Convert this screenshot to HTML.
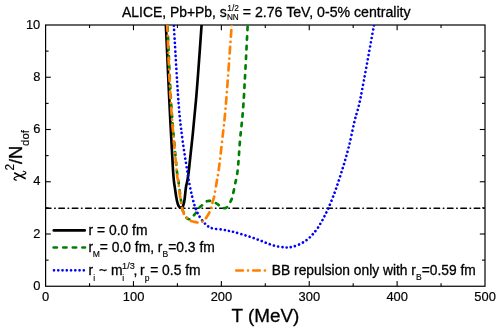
<!DOCTYPE html>
<html><head><meta charset="utf-8"><title>chi2/Ndof vs T</title>
<style>html,body{margin:0;padding:0;background:#fff;}body{width:498px;height:332px;overflow:hidden;}svg{display:block;position:absolute;left:0;top:0;will-change:transform;}text{font-family:"Liberation Sans", sans-serif;fill:#000;stroke:#000;stroke-width:0.3px;stroke-linejoin:round;}.tk text{stroke-width:0.18px;}.sm{stroke-width:0.14px;}</style>
</head><body>
<svg width="498" height="332" viewBox="0 0 498 332">
<rect x="0" y="0" width="498" height="332" fill="#fff"/>
<defs><clipPath id="pc"><rect x="45.60" y="25.00" width="439.40" height="261.25"/></clipPath></defs>
<rect x="45.60" y="25.00" width="439.40" height="261.25" fill="none" stroke="#000" stroke-width="1.2"/>
<g stroke="#000" stroke-width="1.1">
<line x1="89.54" y1="286.25" x2="89.54" y2="283.25"/>
<line x1="89.54" y1="25.00" x2="89.54" y2="28.00"/>
<line x1="133.48" y1="286.25" x2="133.48" y2="281.05"/>
<line x1="133.48" y1="25.00" x2="133.48" y2="30.20"/>
<line x1="177.42" y1="286.25" x2="177.42" y2="283.25"/>
<line x1="177.42" y1="25.00" x2="177.42" y2="28.00"/>
<line x1="221.36" y1="286.25" x2="221.36" y2="281.05"/>
<line x1="221.36" y1="25.00" x2="221.36" y2="30.20"/>
<line x1="265.30" y1="286.25" x2="265.30" y2="283.25"/>
<line x1="265.30" y1="25.00" x2="265.30" y2="28.00"/>
<line x1="309.24" y1="286.25" x2="309.24" y2="281.05"/>
<line x1="309.24" y1="25.00" x2="309.24" y2="30.20"/>
<line x1="353.18" y1="286.25" x2="353.18" y2="283.25"/>
<line x1="353.18" y1="25.00" x2="353.18" y2="28.00"/>
<line x1="397.12" y1="286.25" x2="397.12" y2="281.05"/>
<line x1="397.12" y1="25.00" x2="397.12" y2="30.20"/>
<line x1="441.06" y1="286.25" x2="441.06" y2="283.25"/>
<line x1="441.06" y1="25.00" x2="441.06" y2="28.00"/>
<line x1="45.60" y1="260.12" x2="48.60" y2="260.12"/>
<line x1="485.00" y1="260.12" x2="482.00" y2="260.12"/>
<line x1="45.60" y1="234.00" x2="50.80" y2="234.00"/>
<line x1="485.00" y1="234.00" x2="479.80" y2="234.00"/>
<line x1="45.60" y1="207.88" x2="48.60" y2="207.88"/>
<line x1="485.00" y1="207.88" x2="482.00" y2="207.88"/>
<line x1="45.60" y1="181.75" x2="50.80" y2="181.75"/>
<line x1="485.00" y1="181.75" x2="479.80" y2="181.75"/>
<line x1="45.60" y1="155.62" x2="48.60" y2="155.62"/>
<line x1="485.00" y1="155.62" x2="482.00" y2="155.62"/>
<line x1="45.60" y1="129.50" x2="50.80" y2="129.50"/>
<line x1="485.00" y1="129.50" x2="479.80" y2="129.50"/>
<line x1="45.60" y1="103.38" x2="48.60" y2="103.38"/>
<line x1="485.00" y1="103.38" x2="482.00" y2="103.38"/>
<line x1="45.60" y1="77.25" x2="50.80" y2="77.25"/>
<line x1="485.00" y1="77.25" x2="479.80" y2="77.25"/>
<line x1="45.60" y1="51.12" x2="48.60" y2="51.12"/>
<line x1="485.00" y1="51.12" x2="482.00" y2="51.12"/>
</g>
<g clip-path="url(#pc)" fill="none" stroke-linejoin="round" stroke-linecap="round">
<line x1="45.45" y1="208.30" x2="485.00" y2="208.30" stroke="#000" stroke-width="1.4" stroke-dasharray="5.6 3.6 0.6 3.6"/>
<path d="M165.54 17.00 C165.60 18.33 165.27 11.17 165.90 25.00 C166.53 38.83 168.12 75.83 169.30 100.00 C170.48 124.17 172.02 155.00 173.00 170.00 C173.98 185.00 174.53 184.83 175.20 190.00 C175.87 195.17 176.45 198.38 177.00 201.00 C177.55 203.62 178.07 204.68 178.50 205.70 C178.93 206.72 179.20 206.78 179.60 207.10 C180.00 207.42 180.47 207.60 180.90 207.60 C181.33 207.60 181.82 207.42 182.20 207.10 C182.58 206.78 182.82 206.88 183.20 205.70 C183.58 204.52 184.03 203.12 184.50 200.00 C184.97 196.88 185.27 192.00 186.00 187.00 C186.73 182.00 187.23 184.50 188.90 170.00 C190.57 155.50 193.88 124.17 196.00 100.00 C198.12 75.83 200.57 38.83 201.60 25.00 C202.63 11.17 202.10 18.33 202.20 17.00" stroke="#000" stroke-width="2.67"/>
<path d="M167.13 17.00 C167.19 18.33 166.82 10.50 167.50 25.00 C168.18 39.50 169.65 79.83 171.20 104.00 C172.75 128.17 175.60 157.20 176.80 170.00 C178.00 182.80 177.78 176.28 178.40 180.80 C179.02 185.32 179.80 192.32 180.50 197.10 C181.20 201.88 181.93 206.60 182.60 209.50 C183.27 212.40 183.88 213.17 184.50 214.50 C185.12 215.83 185.67 216.75 186.30 217.50 C186.93 218.25 187.63 218.73 188.30 219.00 C188.97 219.27 189.63 219.35 190.30 219.10 C190.97 218.85 191.70 218.13 192.30 217.50 C192.90 216.87 193.23 216.17 193.90 215.30 C194.57 214.43 195.37 213.60 196.30 212.30 C197.23 211.00 198.50 208.70 199.50 207.50 C200.50 206.30 201.47 205.88 202.30 205.10 C203.13 204.32 203.77 203.42 204.50 202.80 C205.23 202.18 205.92 201.72 206.70 201.40 C207.48 201.08 208.38 200.93 209.20 200.90 C210.02 200.87 210.60 200.90 211.60 201.20 C212.60 201.50 213.93 202.00 215.20 202.70 C216.47 203.40 218.07 204.62 219.20 205.40 C220.33 206.18 221.17 206.93 222.00 207.40 C222.83 207.87 223.53 208.13 224.20 208.20 C224.87 208.27 225.40 208.12 226.00 207.80 C226.60 207.48 227.05 207.33 227.80 206.30 C228.55 205.27 229.75 203.13 230.50 201.60 C231.25 200.07 231.55 199.95 232.30 197.10 C233.05 194.25 234.10 189.02 235.00 184.50 C235.90 179.98 236.85 177.53 237.70 170.00 C238.55 162.47 239.13 150.47 240.10 139.30 C241.07 128.13 242.23 122.05 243.50 103.00 C244.77 83.95 246.93 39.33 247.70 25.00 C248.47 10.67 248.06 18.33 248.13 17.00" stroke="#008000" stroke-width="2.67" stroke-dasharray="3.35 6.25" stroke-dashoffset="6.96"/>
<path d="M173.31 17.00 C173.39 18.33 172.94 10.83 173.80 25.00 C174.66 39.17 177.07 83.00 178.50 102.00 C179.93 121.00 180.97 127.67 182.40 139.00 C183.83 150.33 185.92 162.42 187.10 170.00 C188.28 177.58 188.63 179.98 189.50 184.50 C190.37 189.02 191.37 193.35 192.30 197.10 C193.23 200.85 194.03 203.98 195.10 207.00 C196.17 210.02 197.25 212.65 198.70 215.20 C200.15 217.75 202.12 220.35 203.80 222.30 C205.48 224.25 207.07 225.83 208.80 226.90 C210.53 227.97 211.92 228.25 214.20 228.70 C216.48 229.15 220.18 229.25 222.50 229.60 C224.82 229.95 226.23 230.42 228.10 230.80 C229.97 231.18 231.35 231.30 233.70 231.90 C236.05 232.50 239.38 233.55 242.20 234.40 C245.02 235.25 247.80 236.07 250.60 237.00 C253.40 237.93 256.18 238.93 259.00 240.00 C261.82 241.07 264.68 242.38 267.50 243.40 C270.32 244.42 273.10 245.45 275.90 246.10 C278.70 246.75 281.95 247.10 284.30 247.30 C286.65 247.50 287.65 247.72 290.00 247.30 C292.35 246.88 295.60 246.02 298.40 244.80 C301.20 243.58 304.45 241.72 306.80 240.00 C309.15 238.28 310.62 236.58 312.50 234.50 C314.38 232.42 316.23 230.30 318.10 227.50 C319.97 224.70 322.07 220.75 323.70 217.70 C325.33 214.65 326.50 212.28 327.90 209.20 C329.30 206.12 330.73 202.65 332.10 199.20 C333.47 195.75 334.33 193.65 336.10 188.50 C337.87 183.35 340.60 175.18 342.70 168.30 C344.80 161.42 346.68 155.23 348.70 147.20 C350.72 139.17 352.80 128.45 354.80 120.10 C356.80 111.75 357.50 112.90 360.70 97.10 C363.90 81.30 371.53 38.65 374.00 25.30 C376.47 11.95 375.28 18.38 375.54 17.00" stroke="#0000ff" stroke-width="2.67" stroke-dasharray="0.01 4.289" stroke-dashoffset="2.386"/>
<path d="M166.83 17.00 C166.89 18.33 166.52 10.50 167.20 25.00 C167.88 39.50 169.33 79.83 170.90 104.00 C172.47 128.17 175.40 157.20 176.60 170.00 C177.80 182.80 177.50 176.28 178.10 180.80 C178.70 185.32 179.60 192.88 180.20 197.10 C180.80 201.32 181.15 203.45 181.70 206.10 C182.25 208.75 182.63 211.02 183.50 213.00 C184.37 214.98 185.98 216.88 186.90 218.00 C187.82 219.12 188.30 219.18 189.00 219.70" stroke="#ff8000" stroke-width="2.67" stroke-dasharray="6.55 5.08 0.01 5.08" stroke-dashoffset="7.34"/>
<path d="M189.00 219.70 C189.70 220.22 190.15 220.73 191.10 221.10 C192.05 221.47 193.50 221.65 194.70 221.90 C195.90 222.15 197.35 222.52 198.30 222.60 C199.25 222.68 199.73 222.57 200.40 222.40 C201.07 222.23 201.38 222.28 202.30 221.60 C203.22 220.92 204.65 219.95 205.90 218.30 C207.15 216.65 208.85 213.70 209.80 211.70 C210.75 209.70 211.10 208.02 211.60 206.30 C212.10 204.58 212.33 203.20 212.80 201.40 C213.27 199.60 213.72 198.93 214.40 195.50 C215.08 192.07 216.18 185.05 216.90 180.80 C217.62 176.55 217.80 176.92 218.70 170.00 C219.60 163.08 221.08 150.47 222.30 139.30 C223.52 128.13 224.43 122.05 226.00 103.00 C227.57 83.95 230.65 39.33 231.70 25.00 C232.75 10.67 232.19 18.33 232.28 17.00" stroke="#ff8000" stroke-width="2.67" stroke-dasharray="6.55 5.08 0.01 5.08" stroke-dashoffset="14.29"/>
</g>
<g class="tk" font-size="12.90">
<text x="45.70" y="301.45" text-anchor="middle">0</text>
<text x="133.58" y="301.45" text-anchor="middle">100</text>
<text x="221.46" y="301.45" text-anchor="middle">200</text>
<text x="309.34" y="301.45" text-anchor="middle">300</text>
<text x="397.22" y="301.45" text-anchor="middle">400</text>
<text x="485.10" y="301.45" text-anchor="middle">500</text>
<text x="40.3" y="289.85" text-anchor="end">0</text>
<text x="40.3" y="237.60" text-anchor="end">2</text>
<text x="40.3" y="185.35" text-anchor="end">4</text>
<text x="40.3" y="133.10" text-anchor="end">6</text>
<text x="40.3" y="80.85" text-anchor="end">8</text>
<text x="40.3" y="28.60" text-anchor="end">10</text>
</g>
<text x="122.1" y="16.5" font-size="13.90">ALICE, Pb+Pb, s</text>
<text class="sm" x="227.3" y="10.5" font-size="8.40">1/2</text>
<text class="sm" x="226.9" y="20.4" font-size="8.20">NN</text>
<text x="410.6" y="16.5" font-size="14.15" text-anchor="end">= 2.76 TeV, 0-5% centrality</text>
<text x="265.4" y="321.7" font-size="18.90" text-anchor="middle">T (MeV)</text>
<g transform="translate(21.9,180.5) rotate(-90)">
<path d="M7.75 -7.75 L1.75 3.75" fill="none" stroke="#000" stroke-width="1.45" stroke-linecap="butt"/>
<path d="M0.35 -5.7 C0.5 -7.3 1.3 -8.0 2.2 -7.8 C3.1 -7.6 3.5 -6.6 4.0 -5.0 L5.9 1.6 C6.4 3.3 6.9 4.05 7.7 4.0 C8.6 3.9 9.1 3.0 9.25 1.5" fill="none" stroke="#000" stroke-width="1.25" stroke-linecap="round" stroke-linejoin="round"/>
<text class="sm" x="10.0" y="-8.3" font-size="11.90">2</text>
<text x="16.5" y="0" font-size="18.40">/N</text>
<text class="sm" x="34.6" y="7.0" font-size="11.30">dof</text>
</g>
<g fill="none" stroke-linecap="round">
<line x1="53.8" y1="230.4" x2="84.7" y2="230.4" stroke="#000" stroke-width="2.67"/>
<line x1="53.6" y1="247.5" x2="85.0" y2="247.5" stroke="#008000" stroke-width="2.67" stroke-dasharray="3.35 6.25"/>
<line x1="54.0" y1="270.3" x2="85.0" y2="270.3" stroke="#0000ff" stroke-width="2.67" stroke-dasharray="0.01 4.25"/>
<line x1="236.3" y1="270.5" x2="266.0" y2="270.5" stroke="#ff8000" stroke-width="2.67" stroke-dasharray="6.6 5.13 0.01 5.13"/>
</g>
<g font-size="13.85">
<text x="88.6" y="235.1">r = 0.0 fm</text>
<text x="88.6" y="252.1">r<tspan class="sm" font-size="8.59" dy="4.90" dx="-0.6">M</tspan><tspan dy="-4.90">= 0.0 fm, r</tspan><tspan class="sm" font-size="8.59" dy="4.90">B</tspan><tspan dy="-4.90">=0.3 fm</tspan></text>
<text x="88.6" y="275.1">r<tspan class="sm" font-size="8.59" dy="5.50">i</tspan><tspan dy="-5.50"> ~ m</tspan></text>
<text class="sm" x="122.1" y="269.1" font-size="9.09">1/3</text>
<text class="sm" x="122.2" y="280.60" font-size="8.59">i</text>
<text x="133.5" y="275.1">,</text>
<text x="140.1" y="275.1">r<tspan class="sm" font-size="8.59" dy="5.50">p</tspan></text>
<text x="200.6" y="275.1" text-anchor="end">= 0.5 fm</text>
<text x="271.8" y="275.4" font-size="13.80">BB repulsion only with r<tspan class="sm" font-size="8.59" dy="4.90">B</tspan><tspan dy="-4.90">=0.59 fm</tspan></text>
</g>
</svg>
</body></html>
